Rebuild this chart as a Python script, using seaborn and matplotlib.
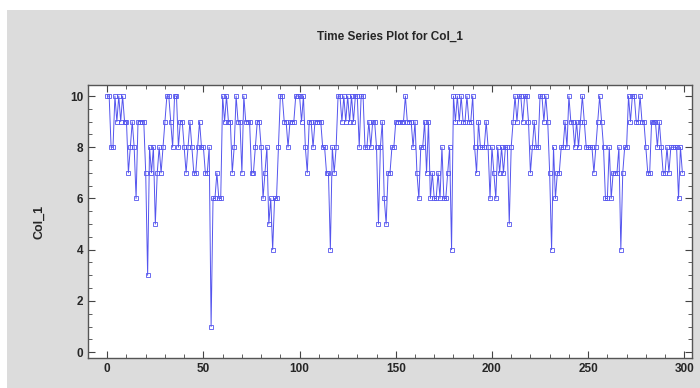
import matplotlib
matplotlib.use("Agg")
import matplotlib.pyplot as plt
import seaborn as sns
import numpy as np
import pandas as pd
from matplotlib.patches import Rectangle
from matplotlib.ticker import MultipleLocator

sns.set_theme(style="white")
plt.rcParams['font.family'] = ['Liberation Sans', 'DejaVu Sans']

# ---- data ----
col_1 = [
    10, 10, 8, 8, 10, 9, 10, 9, 10, 9, 9, 7, 8, 9, 8, 6, 9, 9, 9, 9,
    7, 3, 8, 7, 8, 5, 7, 8, 7,
    8, 9, 10, 10, 9, 8, 10, 10, 8, 9, 9, 8, 7, 8, 9, 8, 7, 7, 8, 9, 8,
    8, 7, 7, 8, 1, 6, 6, 7, 6,
    6, 10, 9, 10, 9, 9, 7, 8, 10, 9, 9, 7, 10, 9, 9, 9, 7, 7, 8, 9, 9,
    8, 6, 7, 8, 5, 6, 4, 6, 6, 8, 10,
    10, 9, 9, 8, 9, 9, 9, 10, 10, 10, 9, 10, 8, 7, 9, 9, 8, 9, 9, 9,
    9, 8, 8, 7, 7, 4, 8, 7, 8, 10,
    10, 9, 10, 9, 10, 9, 10, 9, 10, 10, 8, 10, 10, 8, 8, 9, 8, 9, 9, 8,
    5, 8, 9, 6, 5, 7, 7, 8, 8, 9, 9, 9,
    9, 9, 10, 9, 9, 9, 8, 9, 7, 6, 8, 8, 9, 7, 9, 6, 7, 6, 6, 7,
    6, 8, 6, 6, 7, 8, 4, 10, 9, 10,
    9, 10, 9, 9, 10, 9, 9, 10, 8, 7, 9, 8, 8, 8, 9, 8, 6, 8, 7, 6,
    8, 7, 8, 7, 8, 8, 5, 8, 9, 10, 9, 10,
    10, 9, 10, 10, 9, 7, 8, 9, 8, 8, 10, 10, 9, 10, 9, 7, 4, 8, 6, 7,
    7, 8, 8, 9, 8, 10, 9, 9, 8, 9, 8,
    9, 10, 9, 8, 8, 8, 8, 7, 8, 9, 10, 9, 8, 6, 6, 8, 6, 7, 7, 7,
    8, 4, 7, 8, 8, 10, 9, 10, 10, 9, 9,
    10, 9, 9, 8, 7, 7, 9, 9, 9, 8, 9, 8, 7, 7, 8, 7, 8, 8, 8, 8,
    6, 8, 7,
]
time_index = list(range(len(col_1)))
title = "Time Series Plot for Col_1"
y_label = "Col_1"
x_ticks = [0, 50, 100, 150, 200, 250, 300]
y_ticks = [0, 2, 4, 6, 8, 10]

df = pd.DataFrame({"t": time_index, "Col_1": col_1})

line_color = "#5555ee"

fig = plt.figure(figsize=(7.0, 3.88), dpi=100)
fig.patch.set_facecolor("white")
# grey panel
fig.patches.append(Rectangle((7 / 700, 0), 1 - 7 / 700, 1 - 10 / 388,
                             transform=fig.transFigure, facecolor="#dcdcdc",
                             edgecolor="none", zorder=-10))

ax = fig.add_axes([88 / 700, 1 - 358 / 388, (692 - 88) / 700, (358 - 85) / 388])
ax.set_facecolor("white")

sns.lineplot(data=df, x="t", y="Col_1", ax=ax, color=line_color,
             linewidth=0.7, marker="s", markersize=2.6,
             markerfacecolor="none", markeredgecolor=line_color,
             markeredgewidth=0.6)

ax.set_xlim(-10, 304)
ax.set_ylim(-0.23, 10.43)
ax.set_xticks(x_ticks)
ax.set_yticks(y_ticks)
ax.xaxis.set_minor_locator(MultipleLocator(10))
ax.yaxis.set_minor_locator(MultipleLocator(0.5))
ax.tick_params(which="both", direction="in", top=True, right=True,
               bottom=True, left=True, color="#444444")
ax.tick_params(which="major", length=5, width=0.8, labelsize=8.5)
ax.tick_params(which="minor", length=3, width=0.6)
for lab in ax.get_xticklabels() + ax.get_yticklabels():
    lab.set_fontweight("bold")
ax.set_xlabel("")
ax.set_ylabel(y_label, fontsize=9, fontweight="bold", labelpad=18)
for s in ax.spines.values():
    s.set_color("#555555")
    s.set_linewidth(1.0)

fig.text(390 / 700, 1 - 37 / 388, title, ha="center", va="center",
         fontsize=8.5, fontweight="bold")

fig.savefig("out.png", dpi=100, facecolor=fig.get_facecolor())
